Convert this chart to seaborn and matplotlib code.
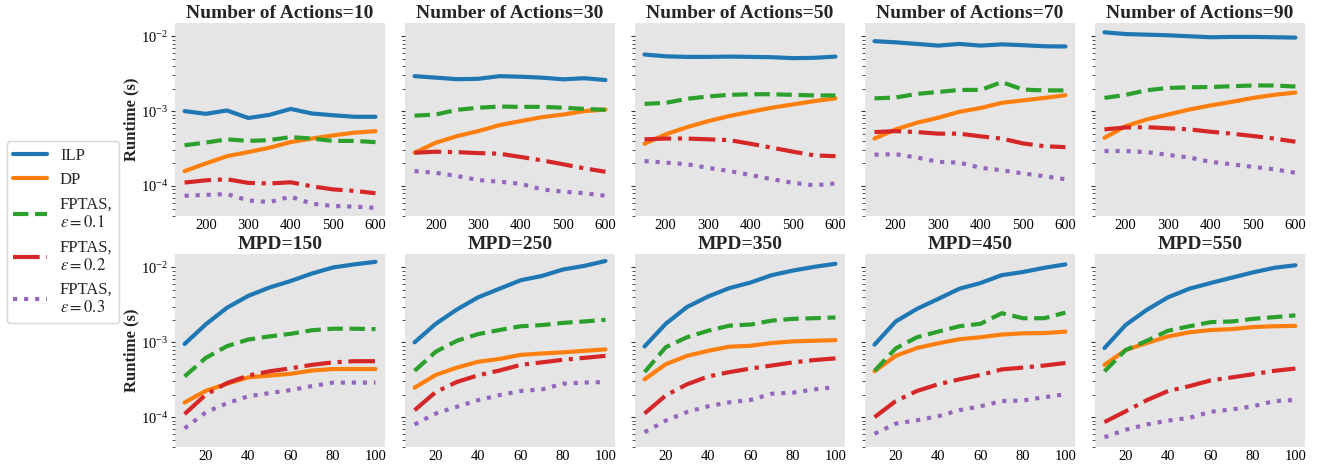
import pandas as pd
import numpy as np
import seaborn as sns
import matplotlib.pyplot as plt

# x values
mpd_values = [150, 200, 250, 300, 350, 400, 450, 500, 550, 600]
action_values = [10, 20, 30, 40, 50, 60, 70, 80, 90, 100]

# top row: one panel per number of actions, runtime vs MPD
actions_panels = [10, 30, 50, 70, 90]
ilp_by_actions = [
    [1.0e-3, 9.2e-4, 1.02e-3, 8.1e-4, 8.9e-4, 1.07e-3, 9.3e-4, 8.8e-4, 8.4e-4, 8.4e-4],
    [2.93e-3, 2.8e-3, 2.67e-3, 2.7e-3, 2.93e-3, 2.88e-3, 2.8e-3, 2.66e-3, 2.75e-3, 2.6e-3],
    [5.7e-3, 5.4e-3, 5.3e-3, 5.3e-3, 5.35e-3, 5.3e-3, 5.25e-3, 5.1e-3, 5.15e-3, 5.35e-3],
    [8.6e-3, 8.3e-3, 7.9e-3, 7.5e-3, 7.9e-3, 7.5e-3, 7.8e-3, 7.6e-3, 7.35e-3, 7.3e-3],
    [1.13e-2, 1.07e-2, 1.05e-2, 1.03e-2, 1.0e-2, 9.7e-3, 9.8e-3, 9.8e-3, 9.7e-3, 9.6e-3],
]
dp_by_actions = [
    [1.58e-4, 2.0e-4, 2.5e-4, 2.84e-4, 3.24e-4, 3.86e-4, 4.3e-4, 4.74e-4, 5.15e-4, 5.4e-4],
    [2.78e-4, 3.78e-4, 4.64e-4, 5.4e-4, 6.5e-4, 7.35e-4, 8.3e-4, 9.0e-4, 1.0e-3, 1.05e-3],
    [3.66e-4, 4.9e-4, 6.1e-4, 7.35e-4, 8.6e-4, 9.8e-4, 1.11e-3, 1.23e-3, 1.36e-3, 1.48e-3],
    [4.3e-4, 5.7e-4, 7.0e-4, 8.15e-4, 9.8e-4, 1.1e-3, 1.29e-3, 1.39e-3, 1.5e-3, 1.63e-3],
    [4.4e-4, 6.3e-4, 7.75e-4, 9.0e-4, 1.05e-3, 1.19e-3, 1.33e-3, 1.5e-3, 1.65e-3, 1.77e-3],
]
fptas1_by_actions = [
    [3.5e-4, 3.8e-4, 4.2e-4, 4.0e-4, 4.1e-4, 4.5e-4, 4.3e-4, 4.0e-4, 4.0e-4, 3.85e-4],
    [8.7e-4, 9.0e-4, 1.04e-3, 1.11e-3, 1.15e-3, 1.14e-3, 1.14e-3, 1.11e-3, 1.07e-3, 1.04e-3],
    [1.25e-3, 1.29e-3, 1.46e-3, 1.57e-3, 1.65e-3, 1.68e-3, 1.68e-3, 1.65e-3, 1.62e-3, 1.62e-3],
    [1.48e-3, 1.52e-3, 1.7e-3, 1.8e-3, 1.92e-3, 1.92e-3, 2.44e-3, 1.94e-3, 1.89e-3, 1.89e-3],
    [1.5e-3, 1.65e-3, 1.9e-3, 2.04e-3, 2.08e-3, 2.1e-3, 2.15e-3, 2.2e-3, 2.2e-3, 2.13e-3],
]
fptas2_by_actions = [
    [1.11e-4, 1.19e-4, 1.23e-4, 1.1e-4, 1.08e-4, 1.12e-4, 9.9e-5, 9.0e-5, 8.6e-5, 8.0e-5],
    [2.78e-4, 2.87e-4, 2.83e-4, 2.75e-4, 2.7e-4, 2.44e-4, 2.2e-4, 1.95e-4, 1.72e-4, 1.55e-4],
    [4.2e-4, 4.3e-4, 4.3e-4, 4.2e-4, 4.1e-4, 3.66e-4, 3.25e-4, 2.87e-4, 2.56e-4, 2.5e-4],
    [5.25e-4, 5.4e-4, 5.25e-4, 5.0e-4, 5.0e-4, 4.6e-4, 4.3e-4, 3.7e-4, 3.4e-4, 3.3e-4],
    [5.7e-4, 6.05e-4, 6.1e-4, 5.9e-4, 5.7e-4, 5.3e-4, 5.0e-4, 4.65e-4, 4.3e-4, 3.9e-4],
]
fptas3_by_actions = [
    [7.4e-5, 7.6e-5, 7.8e-5, 6.4e-5, 6.1e-5, 7.2e-5, 5.8e-5, 5.4e-5, 5.3e-5, 5.1e-5],
    [1.58e-4, 1.5e-4, 1.36e-4, 1.2e-4, 1.14e-4, 1.07e-4, 9.0e-5, 8.4e-5, 8.0e-5, 7.4e-5],
    [2.15e-4, 2.05e-4, 1.95e-4, 1.75e-4, 1.58e-4, 1.4e-4, 1.23e-4, 1.1e-4, 1.02e-4, 1.08e-4],
    [2.62e-4, 2.66e-4, 2.4e-4, 2.1e-4, 2.05e-4, 1.75e-4, 1.62e-4, 1.47e-4, 1.35e-4, 1.23e-4],
    [2.93e-4, 2.93e-4, 2.83e-4, 2.6e-4, 2.4e-4, 2.1e-4, 1.95e-4, 1.8e-4, 1.67e-4, 1.5e-4],
]

# bottom row: one panel per MPD, runtime vs number of actions
mpd_panels = [150, 250, 350, 450, 550]
ilp_by_mpd = [
    [9.5e-4, 1.74e-3, 2.9e-3, 4.17e-3, 5.4e-3, 6.6e-3, 8.3e-3, 1.0e-2, 1.1e-2, 1.19e-2],
    [1.0e-3, 1.77e-3, 2.75e-3, 4.0e-3, 5.2e-3, 6.75e-3, 7.7e-3, 9.4e-3, 1.05e-2, 1.22e-2],
    [8.8e-4, 1.77e-3, 2.96e-3, 4.1e-3, 5.3e-3, 6.3e-3, 7.9e-3, 9.1e-3, 1.02e-2, 1.12e-2],
    [9.3e-4, 1.9e-3, 2.8e-3, 3.8e-3, 5.2e-3, 6.2e-3, 7.9e-3, 8.7e-3, 9.9e-3, 1.1e-2],
    [8.4e-4, 1.71e-3, 2.72e-3, 4.0e-3, 5.2e-3, 6.2e-3, 7.3e-3, 8.6e-3, 9.9e-3, 1.07e-2],
]
dp_by_mpd = [
    [1.57e-4, 2.25e-4, 2.8e-4, 3.4e-4, 3.6e-4, 3.8e-4, 4.2e-4, 4.4e-4, 4.4e-4, 4.4e-4],
    [2.48e-4, 3.67e-4, 4.6e-4, 5.5e-4, 6.0e-4, 6.8e-4, 7.1e-4, 7.35e-4, 7.7e-4, 8.05e-4],
    [3.2e-4, 5.1e-4, 6.6e-4, 7.7e-4, 8.75e-4, 9.0e-4, 9.8e-4, 1.03e-3, 1.05e-3, 1.07e-3],
    [4.1e-4, 6.6e-4, 8.4e-4, 9.7e-4, 1.1e-3, 1.17e-3, 1.27e-3, 1.32e-3, 1.33e-3, 1.39e-3],
    [5.0e-4, 7.9e-4, 9.8e-4, 1.2e-3, 1.36e-3, 1.46e-3, 1.5e-3, 1.6e-3, 1.64e-3, 1.66e-3],
]
fptas1_by_mpd = [
    [3.5e-4, 6.2e-4, 8.9e-4, 1.09e-3, 1.2e-3, 1.3e-3, 1.45e-3, 1.52e-3, 1.52e-3, 1.5e-3],
    [4.16e-4, 7.5e-4, 1.05e-3, 1.29e-3, 1.46e-3, 1.64e-3, 1.7e-3, 1.82e-3, 1.9e-3, 2.0e-3],
    [4.0e-4, 8.6e-4, 1.17e-3, 1.43e-3, 1.67e-3, 1.73e-3, 1.95e-3, 2.06e-3, 2.1e-3, 2.15e-3],
    [4.16e-4, 8.3e-4, 1.17e-3, 1.39e-3, 1.64e-3, 1.77e-3, 2.45e-3, 2.1e-3, 2.1e-3, 2.5e-3],
    [4.1e-4, 7.9e-4, 1.05e-3, 1.43e-3, 1.64e-3, 1.86e-3, 1.9e-3, 2.06e-3, 2.17e-3, 2.29e-3],
]
fptas2_by_mpd = [
    [1.1e-4, 2.0e-4, 2.86e-4, 3.6e-4, 4.1e-4, 4.5e-4, 5.0e-4, 5.4e-4, 5.6e-4, 5.6e-4],
    [1.24e-4, 2.17e-4, 2.96e-4, 3.63e-4, 4.2e-4, 5.0e-4, 5.4e-4, 5.85e-4, 6.2e-4, 6.6e-4],
    [1.12e-4, 1.95e-4, 2.75e-4, 3.5e-4, 4.0e-4, 4.47e-4, 4.9e-4, 5.4e-4, 5.8e-4, 6.1e-4],
    [1.0e-4, 1.64e-4, 2.24e-4, 2.75e-4, 3.2e-4, 3.67e-4, 4.35e-4, 4.6e-4, 4.9e-4, 5.3e-4],
    [8.6e-5, 1.2e-4, 1.69e-4, 2.24e-4, 2.6e-4, 3.1e-4, 3.4e-4, 3.75e-4, 4.16e-4, 4.47e-4],
]
fptas3_by_mpd = [
    [7.1e-5, 1.16e-4, 1.54e-4, 1.9e-4, 2.1e-4, 2.3e-4, 2.6e-4, 2.9e-4, 2.9e-4, 2.9e-4],
    [8.0e-5, 1.12e-4, 1.38e-4, 1.69e-4, 1.97e-4, 2.24e-4, 2.35e-4, 2.8e-4, 2.9e-4, 2.95e-4],
    [6.3e-5, 9.0e-5, 1.17e-4, 1.4e-4, 1.58e-4, 1.7e-4, 2.06e-4, 2.13e-4, 2.35e-4, 2.53e-4],
    [6.0e-5, 8.2e-5, 9.1e-5, 1.03e-4, 1.24e-4, 1.4e-4, 1.64e-4, 1.67e-4, 1.85e-4, 2.02e-4],
    [5.4e-5, 6.8e-5, 8.0e-5, 9.0e-5, 9.8e-5, 1.18e-4, 1.27e-4, 1.4e-4, 1.64e-4, 1.7e-4],
]

labels = ['ILP', 'DP', 'FPTAS,\n$\\varepsilon=0.1$', 'FPTAS,\n$\\varepsilon=0.2$', 'FPTAS,\n$\\varepsilon=0.3$']
colors = ['tab:blue', 'tab:orange', 'tab:green', 'tab:red', 'tab:purple']
styles = ['-', '-', '--', '-.', ':']

sns.set_theme(style="dark", rc={
    'axes.facecolor': '#E5E5E5',
    'figure.facecolor': 'white',
})
plt.rcParams['font.family'] = ['Liberation Serif', 'DejaVu Serif']
plt.rcParams['mathtext.fontset'] = 'stix'
plt.rcParams.update({
    'axes.titlesize': 14,
    'axes.titleweight': 'bold',
    'axes.labelsize': 12,
    'axes.labelweight': 'bold',
    'xtick.labelsize': 10.5,
    'ytick.labelsize': 10.5,
})

fig, axes = plt.subplots(2, 5, figsize=(13.2, 4.71), dpi=100, sharey=True)
fig.subplots_adjust(left=0.1326, right=0.9886, top=0.951, bottom=0.051,
                    wspace=0.095, hspace=0.2)

top_series = [ilp_by_actions, dp_by_actions, fptas1_by_actions, fptas2_by_actions, fptas3_by_actions]
bottom_series = [ilp_by_mpd, dp_by_mpd, fptas1_by_mpd, fptas2_by_mpd, fptas3_by_mpd]

for col in range(5):
    ax = axes[0, col]
    for k in range(5):
        sns.lineplot(x=mpd_values, y=top_series[k][col], ax=ax, color=colors[k],
                     linestyle=styles[k], linewidth=3, label=labels[k], legend=False)
    ax.set_title(f'Number of Actions={actions_panels[col]}', pad=4)
    ax.set_xticks([200, 300, 400, 500, 600])

    ax = axes[1, col]
    for k in range(5):
        sns.lineplot(x=action_values, y=bottom_series[k][col], ax=ax, color=colors[k],
                     linestyle=styles[k], linewidth=3, label=labels[k], legend=False)
    ax.set_title(f'MPD={mpd_panels[col]}', pad=4)
    ax.set_xticks([20, 40, 60, 80, 100])

for ax in axes.flat:
    ax.set_yscale('log')
    ax.set_ylim(4e-5, 1.5e-2)
    ax.set_xlabel('')
    ax.set_ylabel('')
    for spine in ax.spines.values():
        spine.set_visible(False)
    ax.tick_params(axis='y', which='both', left=True, colors='#333333')
    ax.tick_params(axis='y', which='major', length=3, width=0.8)
    ax.tick_params(axis='y', which='minor', length=2, width=0.6)
    ax.tick_params(axis='x', bottom=False, length=0, pad=2, colors='black')
    ax.tick_params(axis='y', labelcolor='black', pad=2)

for r in range(2):
    axes[r, 0].set_ylabel('Runtime (s)', labelpad=1)

handles, leg_labels = axes[0, 0].get_legend_handles_labels()
leg = fig.legend(handles, leg_labels, loc='center left', bbox_to_anchor=(0.005, 0.507),
                 borderaxespad=0, fontsize=12, frameon=True, handlelength=2.0)
leg.get_frame().set_facecolor('white')
leg.get_frame().set_edgecolor('#cccccc')

plt.savefig('out.png', dpi=100, facecolor='white')
